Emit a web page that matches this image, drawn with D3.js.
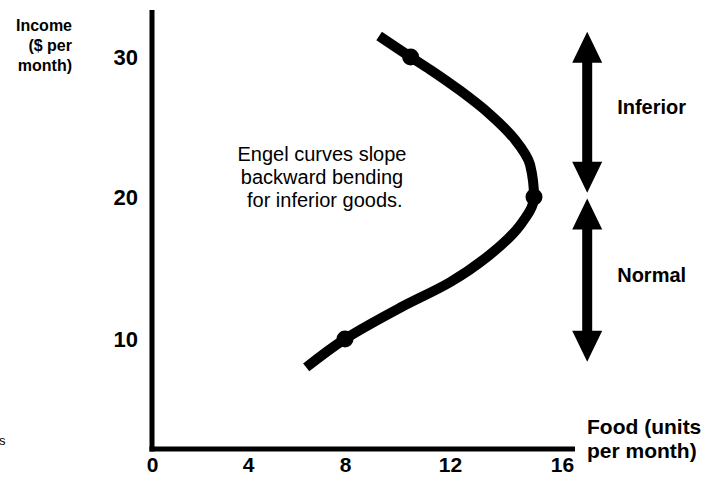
<!DOCTYPE html>
<html>
<head>
<meta charset="utf-8">
<script src="https://cdn.jsdelivr.net/npm/d3@7/dist/d3.min.js"></script>
<style>
  html, body { margin: 0; padding: 0; background: #fff; }
  svg { display: block; }
  text { font-family: "Liberation Sans", Arial, sans-serif; fill: #000; }
</style>
</head>
<body>
<svg id="chart" width="719" height="477"></svg>
<script>
// ---- data ----
const xTicks = [0, 4, 8, 12, 16];
const yTicks = [10, 20, 30];
const curveFood   = [6.4, 8, 10.1, 12, 13.4, 14.5, 15, 14.86, 14.32, 13.43, 12.36, 11.24, 10.5, 9.3];
const curveIncome = [8.0, 10, 12.2, 14.0, 15.9, 18.0, 20, 22.3, 24.1, 25.9, 27.6, 29.1, 30, 31.5];
const dotFood   = [8, 15, 10.5];
const dotIncome = [10, 20, 30];
const bandLabels = ["Inferior", "Normal"];
const bandLow    = [20.3, 8.4];
const bandHigh   = [31.8, 19.9];
const bandFood   = 16.9;
const noteLines  = ["Engel curves slope", "backward bending", " for inferior goods."];
const yTitle = ["Income", "($ per", "month)"];
const xTitle = ["Food (units", "per month)"];

// ---- scales ----
const x = d3.scaleLinear().domain(xTicks).range([152, 248, 345, 450, 562]);
const y = d3.scaleLinear().domain([10, 20, 30]).range([339, 197, 57]);

const svg = d3.select("#chart");

// axes lines
const axisY0 = 449;
svg.append("line").attr("x1", x(0)).attr("x2", x(0))
  .attr("y1", 10).attr("y2", axisY0 + 2.5)
  .attr("stroke", "#000").attr("stroke-width", 5);
svg.append("line").attr("x1", x(0) - 2.5).attr("x2", 575)
  .attr("y1", axisY0).attr("y2", axisY0)
  .attr("stroke", "#000").attr("stroke-width", 5);

// tick labels through d3 axes
const gx = svg.append("g").attr("transform", `translate(0,${axisY0})`)
  .call(d3.axisBottom(x).tickValues(xTicks).tickSize(0).tickPadding(8));
gx.select(".domain").remove();
gx.selectAll("text").style("font-family", '"Liberation Sans", Arial, sans-serif')
  .style("font-size", "21px").style("font-weight", "bold").attr("fill", "#000");

const gy = svg.append("g").attr("transform", `translate(${x(0)},0)`)
  .call(d3.axisLeft(y).tickValues(yTicks).tickSize(0).tickPadding(14));
gy.select(".domain").remove();
gy.selectAll("text").style("font-family", '"Liberation Sans", Arial, sans-serif')
  .style("font-size", "22px").style("font-weight", "bold").attr("fill", "#000");

// axis titles
const yt = svg.append("text").attr("text-anchor", "end")
  .style("font-size", "16px").style("font-weight", "bold");
yTitle.forEach((t, i) => yt.append("tspan").attr("x", 72).attr("y", 31 + i * 20).text(t));

const xt = svg.append("text").attr("text-anchor", "start")
  .style("font-size", "21px").style("font-weight", "bold");
xTitle.forEach((t, i) => xt.append("tspan").attr("x", 587).attr("y", 434 + i * 24).text(t));

// Engel curve (food as a smooth function of income)
const pts = curveFood.map((f, i) => [f, curveIncome[i]]);
svg.append("path")
  .attr("d", d3.line().x(d => x(d[0])).y(d => y(d[1])).curve(d3.curveMonotoneY)(pts))
  .attr("fill", "none").attr("stroke", "#000").attr("stroke-width", 10)
  .attr("stroke-linecap", "butt");

svg.selectAll("circle.dot").data(dotFood).enter().append("circle")
  .attr("class", "dot")
  .attr("cx", d => x(d)).attr("cy", (d, i) => y(dotIncome[i]))
  .attr("r", 8.5).attr("fill", "#000");

// annotation
const note = svg.append("text").attr("text-anchor", "middle")
  .style("font-size", "20px");
noteLines.forEach((t, i) => note.append("tspan").attr("x", 322).attr("y", 161 + i * 23)
  .attr("xml:space", "preserve").text(t));

// double arrows
const ax = x(bandFood);
const shaftW = 5, headW = 15, headL = 31;
bandLabels.forEach((lab, i) => {
  const top = y(bandHigh[i]), bot = y(bandLow[i]);
  const p = d3.path();
  p.moveTo(ax, top);
  p.lineTo(ax + headW, top + headL);
  p.lineTo(ax + shaftW, top + headL);
  p.lineTo(ax + shaftW, bot - headL);
  p.lineTo(ax + headW, bot - headL);
  p.lineTo(ax, bot);
  p.lineTo(ax - headW, bot - headL);
  p.lineTo(ax - shaftW, bot - headL);
  p.lineTo(ax - shaftW, top + headL);
  p.lineTo(ax - headW, top + headL);
  p.closePath();
  svg.append("path").attr("d", p.toString()).attr("fill", "#000");
  svg.append("text").attr("x", ax + 30).attr("y", (top + bot) / 2 - 5)
    .attr("dy", "0.35em").style("font-size", "20px").style("font-weight", "bold")
    .text(lab);
});

// stray fragment at left edge
svg.append("text").attr("x", -1).attr("y", 445).style("font-size", "13px").attr("fill", "#333").text("s");
</script>
</body>
</html>
